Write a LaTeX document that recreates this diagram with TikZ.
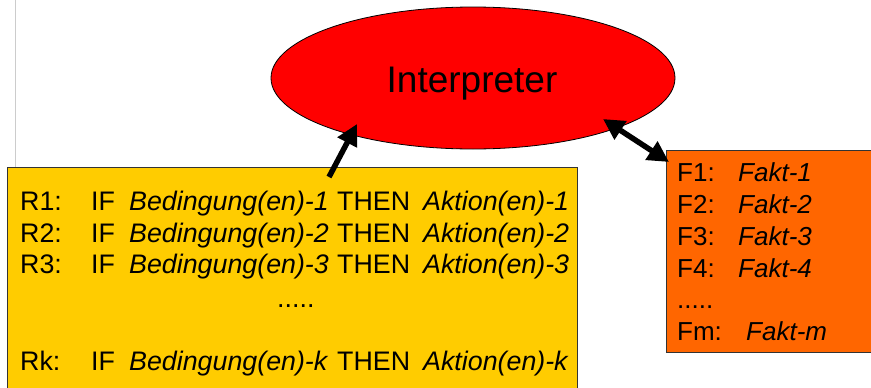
\documentclass[tikz,border=0pt]{standalone}
\usepackage{fontspec}
\setmainfont{Liberation Sans}
\usetikzlibrary{arrows.meta,shapes.geometric}
\definecolor{interpfill}{HTML}{FF0000}
\definecolor{rulefill}{HTML}{FFCC00}
\definecolor{factfill}{HTML}{FF6600}
\newcommand\rulerow[3]{\makebox[71pt][l]{#1}\makebox[38pt][l]{IF}\makebox[208pt][l]{\itshape Bedingung(en)-#2}\makebox[86pt][l]{THEN}{\itshape Aktion(en)-#3}}
\newcommand\factrow[3]{\makebox[#3][l]{#1}{\itshape Fakt-#2}}
\begin{document}
\begin{tikzpicture}[x=1pt,y=-1pt,
  box/.style={draw=black!80, line width=0.8pt, inner sep=0, anchor=north west},
  txt/.style={inner sep=0, anchor=base west, font=\fontsize{26}{30}\selectfont},
  ruletxt/.style={txt, font=\fontsize{26.8}{30}\selectfont},
  arrowtip/.tip={Triangle[length=21pt,width=21pt]},
  conn/.style={line width=5.5pt, -arrowtip},
  conn2/.style={line width=5.5pt, arrowtip-arrowtip},
]
\useasboundingbox (0,0) rectangle (871,388);
\clip (0,0) rectangle (871,388);
\coordinate (gtop) at (15.5,0);
\coordinate (gbot) at (15.5,167);
\draw[black!20, line width=1.5pt] (gtop) -- (gbot);
\node[ellipse, draw=black, line width=0.8pt, fill=interpfill, minimum width=404pt, minimum height=142pt, inner sep=0] (interp) at (473,78) {};
\node[inner sep=0, anchor=base, font=\fontsize{37}{40}\selectfont] (interplabel) at (472,92) {Interpreter};
\node[box, fill=rulefill, minimum width=570pt, minimum height=240pt] (rules) at (7,167) {};
\node[box, fill=factfill, minimum width=230pt, minimum height=202pt] (facts) at (666,150) {};
\node[ruletxt] (r1) at (20,210) {\rulerow{R1:}{1}{1}};
\node[ruletxt] (r2) at (20,242) {\rulerow{R2:}{2}{2}};
\node[ruletxt] (r3) at (20,273) {\rulerow{R3:}{3}{3}};
\node[ruletxt] (rdots) at (277,307) {.....};
\node[ruletxt] (rk) at (20,370) {\rulerow{Rk:}{k}{k}};
\node[txt] (f1) at (677,181) {\factrow{F1:}{1}{61pt}};
\node[txt] (f2) at (677,213) {\factrow{F2:}{2}{61pt}};
\node[txt] (f3) at (677,245) {\factrow{F3:}{3}{61pt}};
\node[txt] (f4) at (677,277) {\factrow{F4:}{4}{61pt}};
\node[txt] (fdots) at (677,308) {.....};
\node[txt] (fm) at (677,340) {\factrow{Fm:}{m}{69pt}};
\coordinate (a1s) at (329,177);
\coordinate (a1e) at (357,124);
\draw[conn] (a1s) -- (a1e);
\coordinate (a2s) at (603,119);
\coordinate (a2e) at (669,162);
\draw[conn2] (a2s) -- (a2e);
\end{tikzpicture}
\end{document}
